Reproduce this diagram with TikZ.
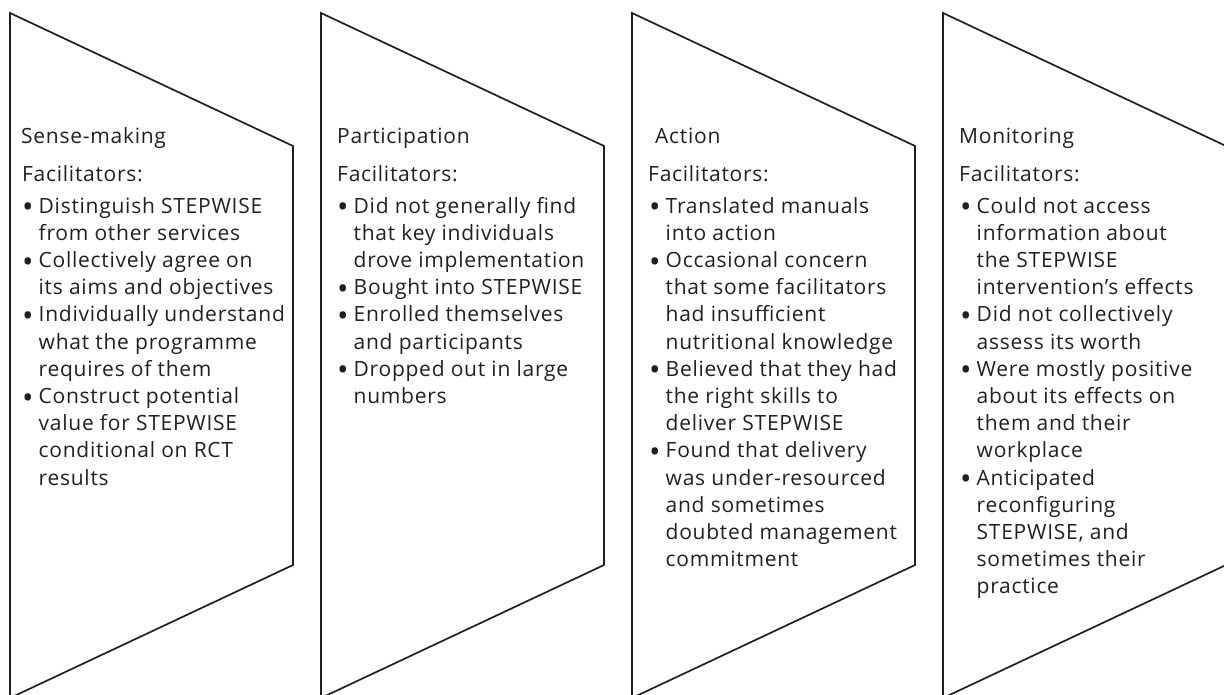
\documentclass[tikz,border=0pt]{standalone}
\usepackage{fontspec}
\setmainfont{Open Sans}[LetterSpace=3.5]
\definecolor{ink}{HTML}{231F20}
\newcommand{\bul}[1]{\makebox[16.5pt][l]{\raisebox{-0.42ex}{\scalebox{1.45}{•}}}#1}
\newcommand{\cnt}[1]{\hspace*{16.5pt}#1}
\tikzset{
  chev/.style={draw=ink, line width=1.7pt, line join=miter},
  txt/.style={anchor=base west, inner sep=0pt, align=left, text=ink,
    font=\fontsize{21}{27.2}\selectfont},
}
\begin{document}
\begin{tikzpicture}[x=1pt,y=-1pt]
\useasboundingbox (0,0) rectangle (1224,695);
\clip (0,0) rectangle (1224,695);
\foreach \i in {0,1,2,3}{
  \pgfmathsetmacro{\L}{10+311*\i}
  \draw[chev] (\L,13) -- (\L+283,146) -- (\L+283,565) -- (\L,698) -- cycle;
}
% column 1 (11 lines: last baseline 213+10*27.2)
\node[txt] (t1) at (21,144) {Sense-making};
\node[txt] (f1) at (22,182) {Facilitators:};
\node[txt] (b1) at (22,485) {\bul{Distinguish STEPWISE}\\\cnt{from other services}\\
\bul{Collectively agree on}\\\cnt{its aims and objectives}\\
\bul{Individually understand}\\\cnt{what the programme}\\\cnt{requires of them}\\
\bul{Construct potential}\\\cnt{value for STEPWISE}\\\cnt{conditional on RCT}\\\cnt{results}};
% column 2 (8 lines)
\node[txt] (t2) at (337,144) {Participation};
\node[txt] (f2) at (337,182) {Facilitators:};
\node[txt] (b2) at (337,403.4) {\bul{Did not generally find}\\\cnt{that key individuals}\\\cnt{drove implementation}\\
\bul{Bought into STEPWISE}\\
\bul{Enrolled themselves}\\\cnt{and participants}\\
\bul{Dropped out in large}\\\cnt{numbers}};
% column 3 (14 lines)
\node[txt] (t3) at (655,144) {Action};
\node[txt] (f3) at (648,182) {Facilitators:};
\node[txt] (b3) at (649,566.6) {\bul{Translated manuals}\\\cnt{into action}\\
\bul{Occasional concern}\\\cnt{that some facilitators}\\\cnt{had insufficient}\\\cnt{nutritional knowledge}\\
\bul{Believed that they had}\\\cnt{the right skills to}\\\cnt{deliver STEPWISE}\\
\bul{Found that delivery}\\\cnt{was under-resourced}\\\cnt{and sometimes}\\\cnt{doubted management}\\\cnt{commitment}};
% column 4 (15 lines)
\node[txt] (t4) at (959,144) {Monitoring};
\node[txt] (f4) at (959,182) {Facilitators:};
\node[txt] (b4) at (960,593.8) {\bul{Could not access}\\\cnt{information about}\\\cnt{the STEPWISE}\\\cnt{intervention’s effects}\\
\bul{Did not collectively}\\\cnt{assess its worth}\\
\bul{Were mostly positive}\\\cnt{about its effects on}\\\cnt{them and their}\\\cnt{workplace}\\
\bul{Anticipated}\\\cnt{reconfiguring}\\\cnt{STEPWISE, and}\\\cnt{sometimes their}\\\cnt{practice}};
\end{tikzpicture}
\end{document}
